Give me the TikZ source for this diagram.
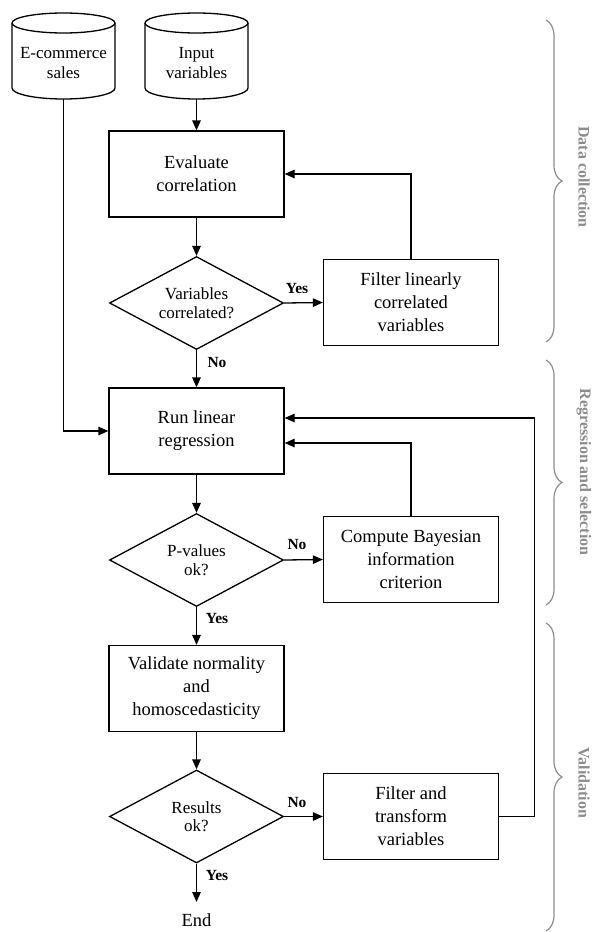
\documentclass[tikz,border=0pt]{standalone}
\usepackage{fontspec}
\setmainfont{Liberation Serif}
\usetikzlibrary{shapes.geometric,arrows.meta,calc,decorations.pathreplacing}
\definecolor{bracegray}{HTML}{8C8C8C}
\begin{document}
\begin{tikzpicture}[x=1pt,y=-1pt,
 line width=1.3pt,
 arr/.style={-{Triangle[length=10pt,width=8.5pt]}},
 box/.style={draw, rectangle, minimum width=175pt, minimum height=86pt, align=center, font=\fontsize{18.5}{23}\selectfont, inner sep=0pt},
 dec/.style={draw, diamond, aspect=2, minimum width=174pt, minimum height=93pt, align=center, font=\fontsize{17}{18.5}\selectfont, inner sep=0pt},
 cylframe/.style={rectangle, minimum width=103pt, minimum height=86pt, inner sep=0pt, outer sep=0pt},
 cyltxt/.style={align=center, font=\fontsize{17}{19.3}\selectfont, inner sep=0pt},
 lbl/.style={font=\bfseries\fontsize{15.5}{18}\selectfont, anchor=base, inner sep=0pt},
 grp/.style={draw=bracegray, line width=1.2pt, decorate, decoration={brace, amplitude=16pt}},
 grptxt/.style={text=bracegray, font=\bfseries\fontsize{16}{18}\selectfont, rotate=-90, inner sep=0pt},
]
\useasboundingbox (0,0) rectangle (595,932);

% cylinders
\node[cylframe] (ecom) at (63.5,56) {};
\draw (12,23) -- (12,88) arc[start angle=180, end angle=360, x radius=51.5pt, y radius=11pt] -- (115,23);
\draw (63.5,23) ellipse [x radius=51.5pt, y radius=10pt];
\node[cyltxt] (ecomt) at (63.5,63) {E-commerce\\sales};

\node[cylframe] (inp) at (196.5,56) {};
\draw (145,23) -- (145,88) arc[start angle=180, end angle=360, x radius=51.5pt, y radius=11pt] -- (248,23);
\draw (196.5,23) ellipse [x radius=51.5pt, y radius=10pt];
\node[cyltxt] (inpt) at (196.5,63) {Input\\variables};

% main column
\node[box] (eval) at (196.5,174) {Evaluate\\correlation};
\node[dec] (d1) at (196.5,303) {Variables\\correlated?};
\node[box] (filt1) at (411,302.5) {Filter linearly\\correlated\\variables};
\node[box] (run) at (196.5,431) {Run linear\\regression};
\node[dec] (d2) at (196.5,560) {P-values\\ok?};
\node[box] (comp) at (411,559.5) {Compute Bayesian\\information\\criterion};
\node[box] (val) at (196.5,688.5) {Validate normality\\and\\homoscedasticity};
\node[dec] (d3) at (196.5,816.5) {Results\\ok?};
\node[box] (filt2) at (411,816.5) {Filter and\\transform\\variables};
\node[font=\fontsize{18.5}{23}\selectfont, inner xsep=0pt, inner ysep=11pt, anchor=base] (endn) at (196.5,926.5) {End};

% connectors
\draw[arr] (inp.south) -- (eval.north);
\draw[arr] (eval.south) -- (d1.north);
\draw[arr] (d1.east) -- (filt1.west);
\draw[arr] (filt1.north) |- (eval.east);
\draw[arr] (d1.south) -- (run.north);
\draw[arr] (ecom.south) |- (run.west);
\draw[arr] (run.south) -- (d2.north);
\draw[arr] (d2.east) -- (comp.west);
\draw[arr] (comp.north) |- ($(run.east)+(0,12)$);
\draw[arr] (d2.south) -- (val.north);
\draw[arr] (val.south) -- (d3.north);
\draw[arr] (d3.east) -- (filt2.west);
\draw[arr] (filt2.east) -- ++(35,0) |- ($(run.east)+(0,-13)$);
\draw[arr] (d3.south) -- (endn.north);

% labels
\node[lbl] (y1) at (297,293) {Yes};
\node[lbl] (n1) at (217,367) {No};
\node[lbl] (n2) at (297,549) {No};
\node[lbl] (y2) at (217,623) {Yes};
\node[lbl] (n3) at (297,807) {No};
\node[lbl] (y3) at (217,880) {Yes};

% braces
\draw[grp] (546,20) -- (546,342);
\draw[grp] (546,360) -- (546,605);
\draw[grp] (546,623) -- (546,931);
\node[grptxt] (g1) at (584,177) {Data collection};
\node[grptxt] (g2) at (584,472) {Regression and selection};
\node[grptxt] (g3) at (584,783) {Validation};
\end{tikzpicture}
\end{document}
